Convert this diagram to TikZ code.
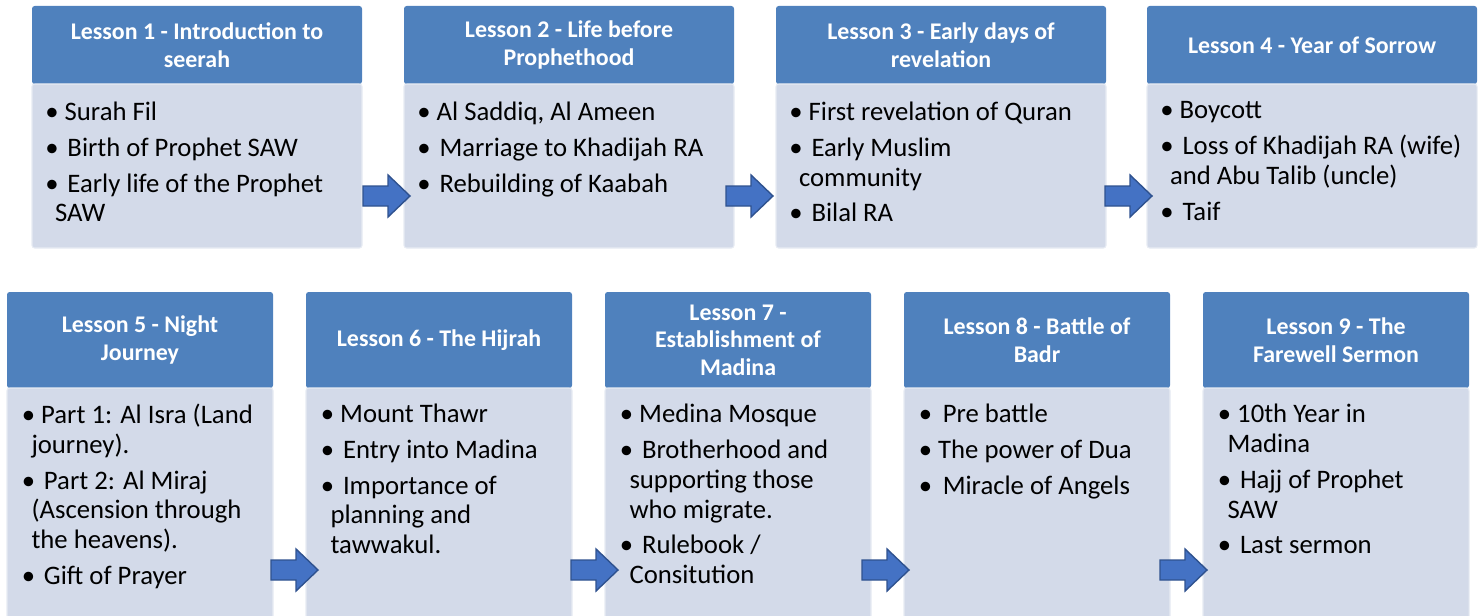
\documentclass[tikz,border=0pt]{standalone}
\usepackage{fontspec}
\setmainfont{Carlito}
\usepackage{tikz}
\usetikzlibrary{positioning,calc}
\definecolor{headblue}{HTML}{4F81BD}
\definecolor{bodyblue}{HTML}{D3DAE9}
\definecolor{arrowfill}{HTML}{4472C4}
\definecolor{arrowline}{HTML}{2F528F}
\newcommand{\bul}{\textbullet\ }
\newcommand{\bulw}{\textbullet\ \kern1.6pt}
\newcommand{\cont}{\hspace*{5.5pt}}
\tikzset{
head/.style={fill=headblue, text=white, font=\fontsize{13.6}{15.6}\selectfont\bfseries, align=center, rounded corners=1.5pt, inner sep=0pt, outer sep=0pt},
tophead/.style={head, minimum width=6.6cm, minimum height=1.56cm},
bothead/.style={head, minimum width=5.32cm, minimum height=1.92cm},
body/.style={fill=bodyblue, draw=white!45!bodyblue, line width=0.6pt, rounded corners=1.5pt, inner sep=0pt, outer sep=0pt},
topbody/.style={body, minimum width=6.6cm, minimum height=3.28cm},
botbody/.style={body, minimum width=5.32cm, minimum height=4.64cm},
items/.style={anchor=north west, inner sep=0pt, align=left, font=\fontsize{15.2}{17}\selectfont, execute at begin node=\strut},
blockarrow/.style={fill=arrowfill, draw=arrowline, line width=0.8pt, line join=miter}
}
\begin{document}
\begin{tikzpicture}
\useasboundingbox (0,0) rectangle (29.6,-12.3);
% first row of lessons
\node[tophead, anchor=north west] (h1) at (0.64,-0.12) {Lesson 1 - Introduction to\\seerah};
\node[tophead, right=0.84cm of h1] (h2) {Lesson 2 - Life before\\Prophethood};
\node[tophead, right=0.84cm of h2] (h3) {Lesson 3 - Early days of\\revelation};
\node[tophead, right=0.82cm of h3] (h4) {Lesson 4 - Year of Sorrow};
\foreach \i in {1,...,4}
  \node[topbody, below=0pt of h\i] (b\i) {};
% second row of lessons
\node[bothead, anchor=north west] (h5) at (0.14,-5.84) {Lesson 5 - Night\\Journey};
\node[bothead, right=0.66cm of h5] (h6) {Lesson 6 - The Hijrah};
\node[bothead, right=0.66cm of h6] (h7) {Lesson 7 -\\Establishment of\\Madina};
\node[bothead, right=0.66cm of h7] (h8) {Lesson 8 - Battle of\\Badr};
\node[bothead, right=0.66cm of h8] (h9) {Lesson 9 - The\\Farewell Sermon};
\foreach \i in {5,...,9}
  \node[botbody, below=0pt of h\i] (b\i) {};
% bullet points
\node[items] (t1) at ($(b1.north west)+(0.26,-0.35)$) {\bul Surah Fil\\[3.4pt]\bulw Birth of Prophet SAW\\[3.4pt]\bulw Early life of the Prophet\\\cont SAW};
\node[items] (t2) at ($(b2.north west)+(0.26,-0.35)$) {\bul Al Saddiq, Al Ameen\\[3.4pt]\bulw Marriage to Khadijah RA\\[3.4pt]\bulw Rebuilding of Kaabah};
\node[items] (t3) at ($(b3.north west)+(0.26,-0.35)$) {\bul First revelation of Quran\\[3.4pt]\bulw Early Muslim\\\cont community\\[3.4pt]\bulw Bilal RA};
\node[items] (t4) at ($(b4.north west)+(0.26,-0.35)$) {\bul Boycott\\[3.4pt]\bulw Loss of Khadijah RA (wife)\\\cont and Abu Talib (uncle)\\[3.4pt]\bulw Taif};
\node[items] (t5) at ($(b5.north west)+(0.29,-0.31)$) {\bul Part 1: Al Isra (Land\\\cont journey).\\[3.4pt]\bulw Part 2: Al Miraj\\\cont (Ascension through\\\cont the heavens).\\[3.4pt]\bulw Gift of Prayer};
\node[items] (t6) at ($(b6.north west)+(0.29,-0.31)$) {\bul Mount Thawr\\[3.4pt]\bulw Entry into Madina\\[3.4pt]\bulw Importance of\\\cont planning and\\\cont tawwakul.};
\node[items] (t7) at ($(b7.north west)+(0.29,-0.31)$) {\bul Medina Mosque\\[3.4pt]\bulw Brotherhood and\\\cont supporting those\\\cont who migrate.\\[3.4pt]\bulw Rulebook /\\\cont Consitution};
\node[items] (t8) at ($(b8.north west)+(0.29,-0.31)$) {\bulw\kern1pt Pre battle\\[3.4pt]\bul The power of Dua\\[3.4pt]\bulw\kern1pt Miracle of Angels};
\node[items] (t9) at ($(b9.north west)+(0.29,-0.31)$) {\bul 10th Year in\\\cont Madina\\[3.4pt]\bulw Hajj of Prophet\\\cont SAW\\[3.4pt]\bulw Last sermon};
% block arrows between lessons
\foreach \n/\d in {b1/0.02,b2/-0.16,b3/-0.02}
  \draw[blockarrow] ($(\n.north east)+(\d,-2.04)$) -- ++(0.5,0) -- ++(0,0.22) -- ++(0.44,-0.42) -- ++(-0.44,-0.42) -- ++(0,0.22) -- ++(-0.5,0) -- cycle;
\foreach \n/\d in {b5/-0.04,b6/-0.02,b7/-0.18,b8/-0.2}
  \draw[blockarrow] ($(\n.north east)+(\d,-3.44)$) -- ++(0.5,0) -- ++(0,0.22) -- ++(0.44,-0.42) -- ++(-0.44,-0.42) -- ++(0,0.22) -- ++(-0.5,0) -- cycle;
\end{tikzpicture}
\end{document}
